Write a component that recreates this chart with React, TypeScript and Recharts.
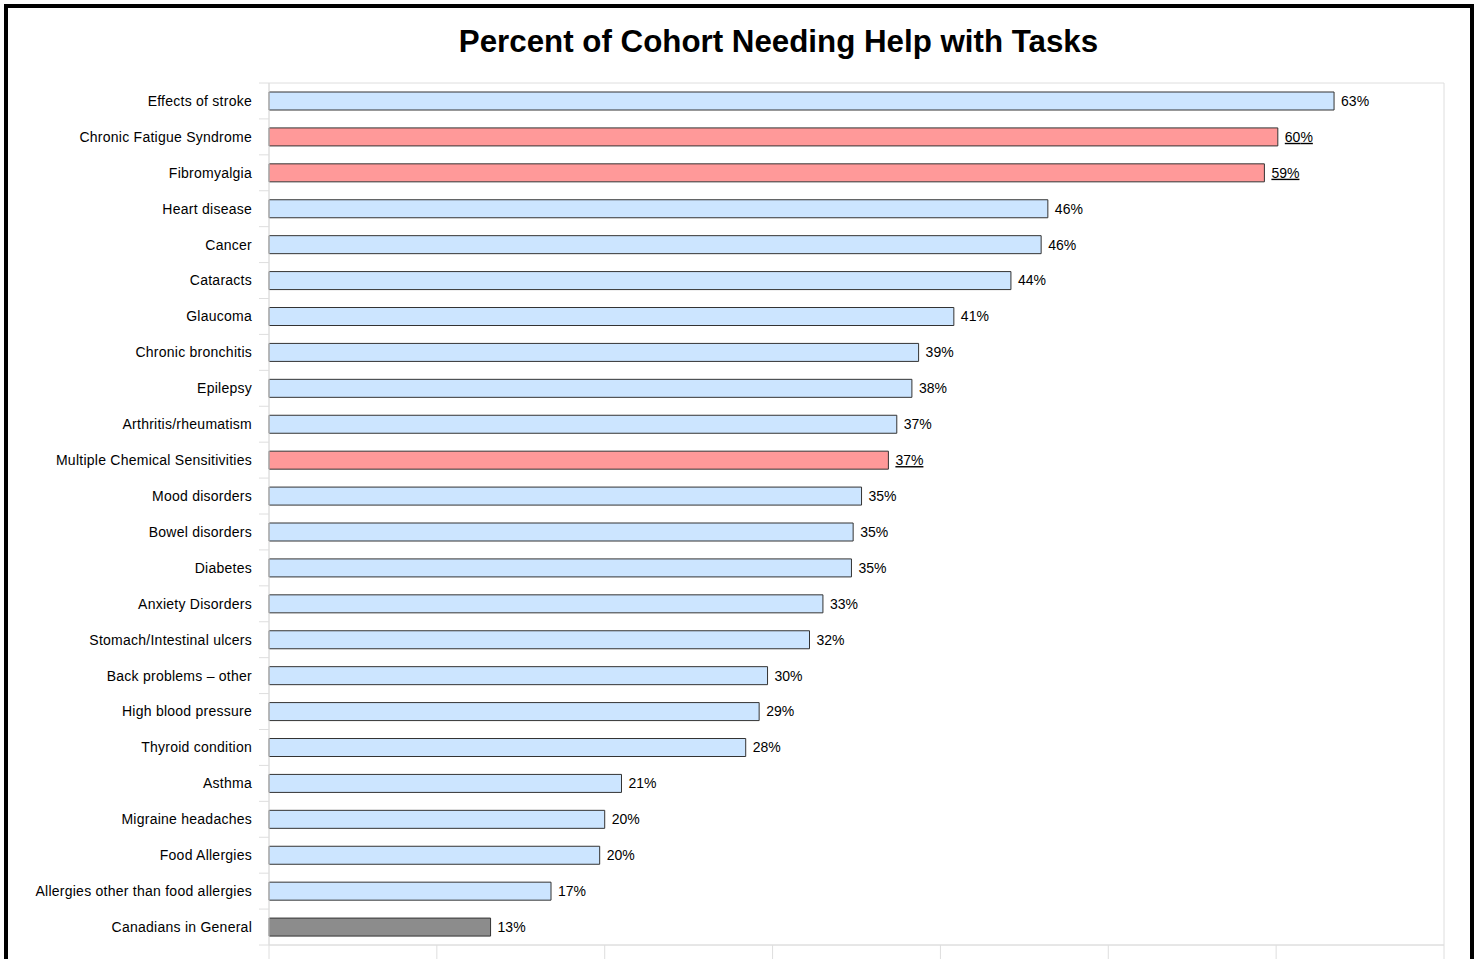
import React from 'react';
import {
    BarChart,
    Bar,
    XAxis,
    YAxis,
    Cell,
    LabelList,
    ReferenceArea
} from 'recharts';

const categories = [
    'Effects of stroke',
    'Chronic Fatigue Syndrome',
    'Fibromyalgia',
    'Heart disease',
    'Cancer',
    'Cataracts',
    'Glaucoma',
    'Chronic bronchitis',
    'Epilepsy',
    'Arthritis/rheumatism',
    'Multiple Chemical Sensitivities',
    'Mood disorders',
    'Bowel disorders',
    'Diabetes',
    'Anxiety Disorders',
    'Stomach/Intestinal ulcers',
    'Back problems \u2013 other',
    'High blood pressure',
    'Thyroid condition',
    'Asthma',
    'Migraine headaches',
    'Food Allergies',
    'Allergies other than food allergies',
    'Canadians in General',
];

const values = [
    63.45, 60.1, 59.3, 46.4, 46.0, 44.2, 40.8, 38.7, 38.3, 37.4, 36.9, 35.3,
    34.8, 34.7, 33.0, 32.2, 29.7, 29.2, 28.4, 21.0, 20.0, 19.7, 16.8, 13.2,
];

// cohort = other conditions, focus = highlighted conditions, general = population baseline
const groups = [
    'cohort', 'focus', 'focus', 'cohort', 'cohort', 'cohort', 'cohort', 'cohort',
    'cohort', 'cohort', 'focus', 'cohort', 'cohort', 'cohort', 'cohort', 'cohort',
    'cohort', 'cohort', 'cohort', 'cohort', 'cohort', 'cohort', 'cohort', 'general',
];

const xTicks = [0, 10, 20, 30, 40, 50, 60, 70];

const groupColors: Record<string, string> = {
    cohort: '#cce5ff',
    focus: '#ff9999',
    general: '#8c8c8c',
};

const gridColor = '#dedede';
const font = '"Liberation Sans", Arial, sans-serif';

const chartData = categories.map((name, i) => ({
    name,
    value: values[i],
    group: groups[i],
}));

const CategoryTick = (props: any) => {
    const { x, y, payload, index } = props;
    const half = payload && payload.offset ? payload.offset : 18;
    const last = index === categories.length - 1;
    return (
        <g>
            <line x1={x + 7} x2={x + 17} y1={y - half} y2={y - half} stroke={gridColor} />
            {last && (
                <line x1={x + 7} x2={x + 17} y1={y + half} y2={y + half} stroke={gridColor} />
            )}
            <text
                x={x}
                y={y}
                dy="0.35em"
                textAnchor="end"
                fill="#000"
                fontSize={14}
                letterSpacing={0.25}
                fontFamily={font}
            >
                {payload.value}
            </text>
        </g>
    );
};

// the percent labels of the x axis sit below the visible frame
const EmptyTick = () => <g />;

const ValueLabel = (props: any) => {
    const { x, y, width, height, value, index } = props;
    const underline = groups[index] === 'focus';
    return (
        <text
            x={x + width + 7}
            y={y + height / 2}
            dy="0.35em"
            fill="#000"
            fontSize={14}
            fontFamily={font}
            textDecoration={underline ? 'underline' : undefined}
        >
            {Math.round(value)}%
        </text>
    );
};

export default function App() {
    return (
        <div
            style={{
                position: 'absolute',
                left: 0,
                top: 0,
                width: 1479,
                height: 959,
                overflow: 'hidden',
                background: '#fff',
            }}
        >
            <div
                style={{
                    position: 'absolute',
                    left: 4,
                    top: 4,
                    width: 1462,
                    height: 1100,
                    border: '4px solid #000',
                }}
            />
            <div
                style={{
                    position: 'absolute',
                    left: 0,
                    width: 1557,
                    top: 22,
                    textAlign: 'center',
                    fontFamily: font,
                    fontWeight: 'bold',
                    fontSize: 31.3,
                    lineHeight: '40px',
                    color: '#000',
                }}
            >
                Percent of Cohort Needing Help with Tasks
            </div>
            <div style={{ position: 'absolute', left: 0, top: 0 }}>
                <BarChart
                    width={1479}
                    height={1000}
                    data={chartData}
                    layout="vertical"
                    margin={{ top: 83, right: 35, bottom: 25, left: 0 }}
                >
                    <XAxis
                        type="number"
                        domain={[0, 70]}
                        ticks={xTicks}
                        axisLine={{ stroke: gridColor }}
                        tickLine={{ stroke: gridColor }}
                        tickSize={20}
                        height={30}
                        tick={<EmptyTick />}
                    />
                    <YAxis
                        type="category"
                        dataKey="name"
                        width={269}
                        tickSize={0}
                        tickMargin={17}
                        axisLine={{ stroke: gridColor }}
                        tickLine={false}
                        interval={0}
                        tick={<CategoryTick />}
                    />
                    <ReferenceArea x1={0} x2={70} fill="none" stroke={gridColor} />
                    <Bar
                        dataKey="value"
                        barSize={18}
                        stroke="#333"
                        strokeWidth={1}
                        isAnimationActive={false}
                    >
                        {chartData.map((d, i) => (
                            <Cell key={i} fill={groupColors[d.group]} />
                        ))}
                        <LabelList dataKey="value" content={<ValueLabel />} />
                    </Bar>
                </BarChart>
            </div>
        </div>
    );
}
